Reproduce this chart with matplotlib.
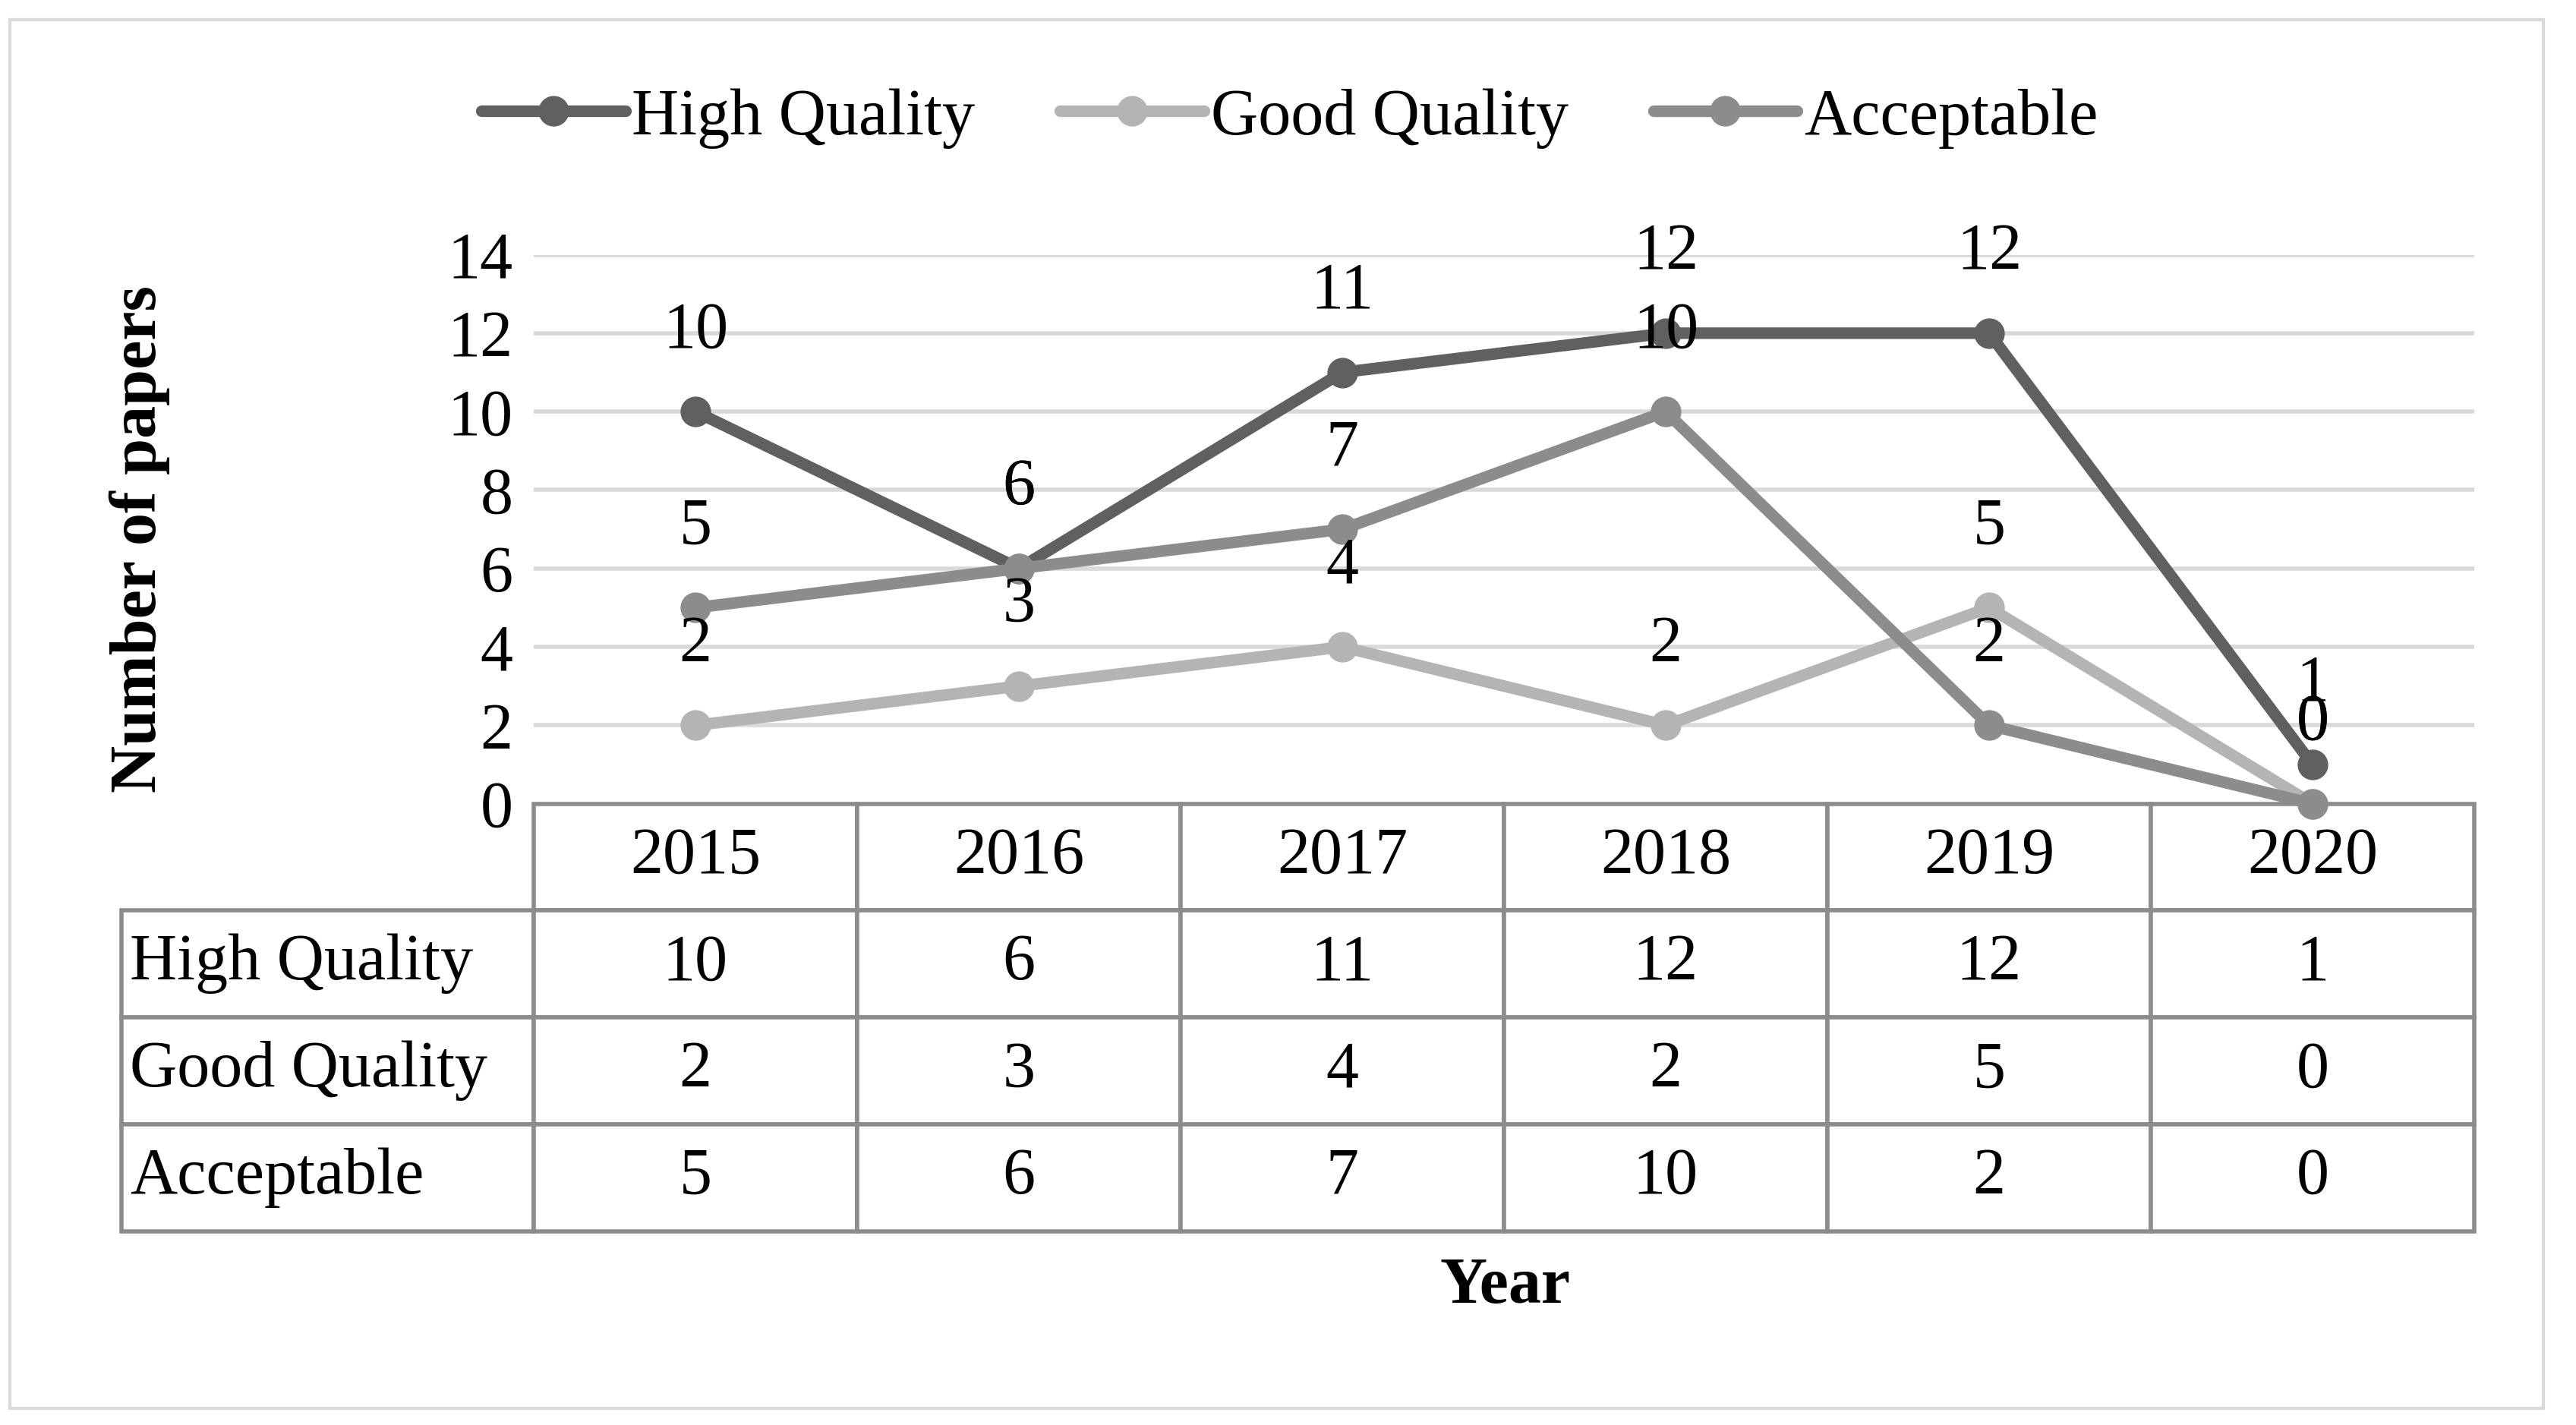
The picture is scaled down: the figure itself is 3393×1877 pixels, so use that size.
import matplotlib
matplotlib.use("Agg")
import matplotlib.pyplot as plt
from matplotlib.patches import Rectangle

years = ["2015", "2016", "2017", "2018", "2019", "2020"]
high_quality = [10, 6, 11, 12, 12, 1]
good_quality = [2, 3, 4, 2, 5, 0]
acceptable = [5, 6, 7, 10, 2, 0]
series_names = ["High Quality", "Good Quality", "Acceptable"]
series_colors = ["#606060", "#b4b4b4", "#8c8c8c"]

plt.rcParams['font.family'] = ['Liberation Serif', 'DejaVu Serif']
FS = 62


def main():
    fig = plt.figure(figsize=(33.93, 18.77), dpi=100)
    fig.set_facecolor('white')

    # light outer frame
    fig.patches.append(Rectangle((6 / 1568, 1 - 857 / 867), 1542 / 1568, 845 / 867,
                                 transform=fig.transFigure, fill=False,
                                 edgecolor='#d9d9d9', linewidth=3))

    ax = fig.add_axes([325 / 1568, 1 - 489 / 867, 1181 / 1568, 334 / 867])
    x = list(range(len(years)))
    all_series = [high_quality, good_quality, acceptable]
    for vals, name, col in zip(all_series, series_names, series_colors):
        ax.plot(x, vals, color=col, lw=11, marker='o', ms=28, label=name,
                solid_capstyle='round', clip_on=False, zorder=3)
        for xi, v in zip(x, vals):
            ax.annotate(str(v), (xi, v), xytext=(0, 76), textcoords='offset points',
                        ha='center', va='center', fontsize=FS, zorder=4)

    ax.set_xlim(-0.5, len(years) - 0.5)
    ax.set_ylim(0, 14)
    ax.set_yticks(range(0, 15, 2))
    ax.tick_params(axis='y', length=0, pad=20, labelsize=FS)
    ax.set_xticks([])
    for s in ax.spines.values():
        s.set_visible(False)
    for yv in range(2, 15, 2):
        ax.axhline(yv, color='#d9d9d9', lw=4, zorder=1)

    # data table under the plot; first column holds the series names
    cell_text = [[name] + [str(v) for v in vals]
                 for name, vals in zip(series_names, all_series)]
    tbl = ax.table(cellText=cell_text, colLabels=[""] + years, cellLoc='center',
                   colWidths=[251 / 1432] + [197 / 1432] * 6,
                   bbox=[-251 / 1181, -260 / 334, 1432 / 1181, 260 / 334])
    tbl.auto_set_font_size(False)
    tbl.set_fontsize(FS)
    for (r, c), cell in tbl.get_celld().items():
        cell.set_edgecolor('#8c8c8c')
        cell.set_linewidth(4)
        if c == 0:
            cell.PAD = 0.02
            cell.get_text().set_ha('left')
            cell._loc = 'left'
            if r == 0:
                cell.visible_edges = ''

    fig.legend(loc='center', bbox_to_anchor=(785 / 1568, 1 - 72 / 867), ncol=3,
               frameon=False, fontsize=FS, handlelength=2.2, handletextpad=0.1,
               columnspacing=1.3)

    fig.text(85 / 1568, 1 - 328 / 867, "Number of papers", rotation=90,
             ha='center', va='center', fontsize=FS, fontweight='bold')
    fig.text(916 / 1568, 1 - 783 / 867, "Year", ha='center', va='center',
             fontsize=FS, fontweight='bold')

    plt.savefig("out.png", dpi=100, facecolor='white')


if __name__ == '__main__':
    main()
